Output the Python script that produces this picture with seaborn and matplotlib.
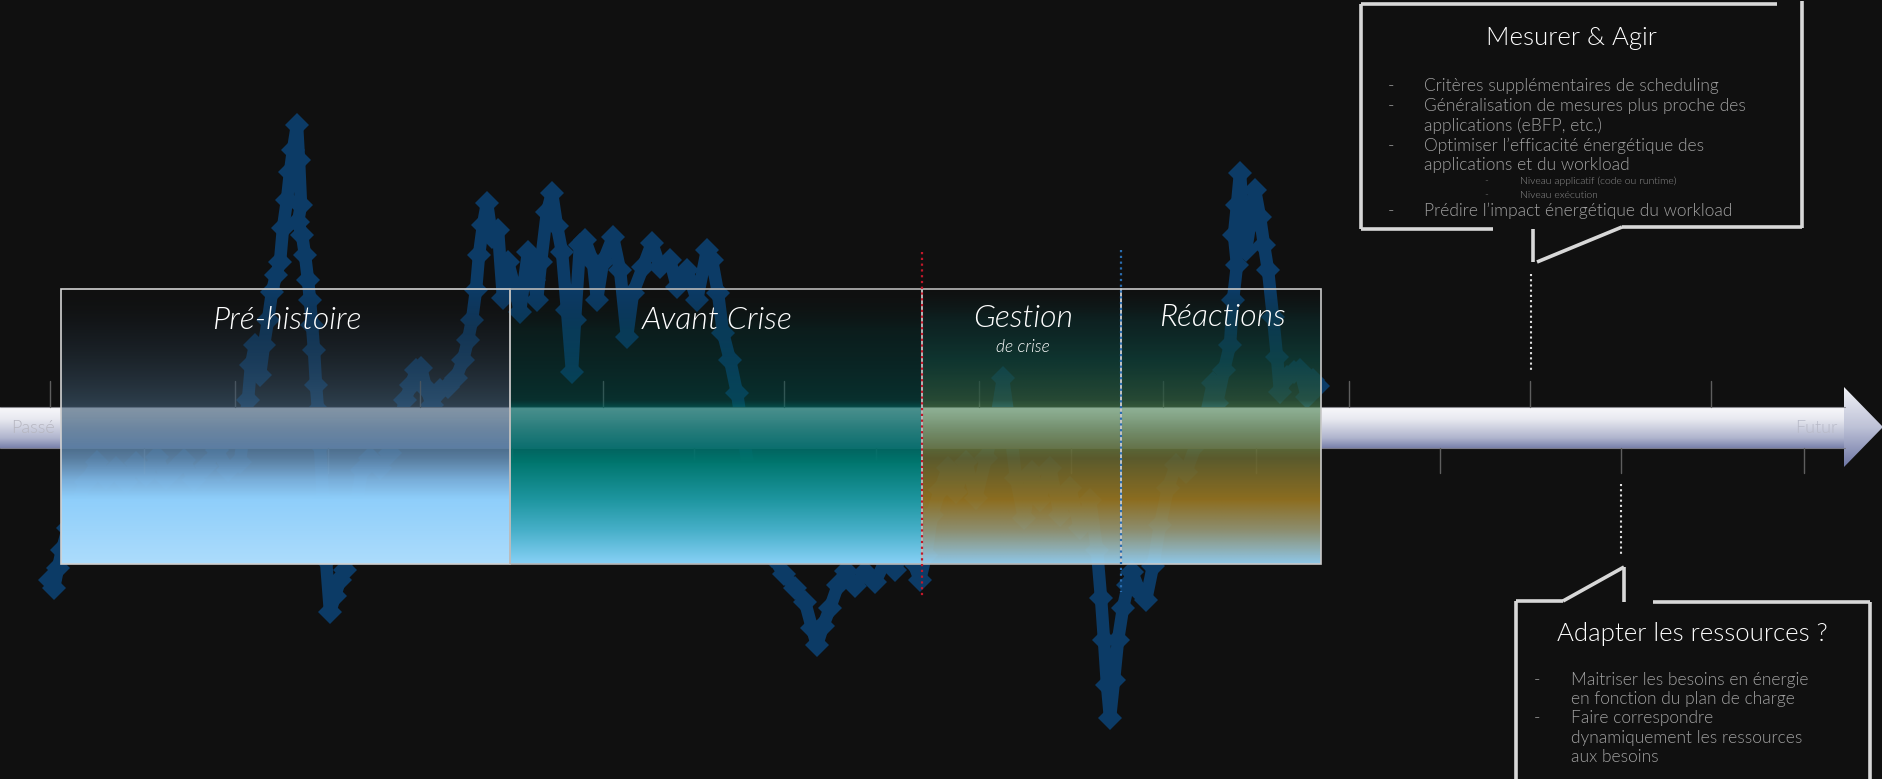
import numpy as np
import matplotlib
matplotlib.use("Agg")
import matplotlib.pyplot as plt
import seaborn as sns
from matplotlib.patches import Polygon, Rectangle

# ---------------- data ----------------
series_x = [50, 54, 58, 62, 68, 76, 86, 97, 106, 116, 126, 136, 146, 157, 166, 176, 184, 194, 206, 217,
            228, 240, 245, 248, 251, 255, 260, 264, 268, 272, 276, 280, 283, 287, 290, 293, 297, 299, 301, 298,
            302, 305, 308, 310, 312, 314, 316, 318, 320, 323, 326, 330, 335, 340, 345, 350, 356, 362, 370, 380,
            390, 398, 405, 411, 416, 421, 426, 432, 440, 448, 456, 463, 468, 472, 476, 479, 483, 487, 492, 498,
            503, 508, 514, 520, 528, 534, 537, 541, 547, 552, 557, 562, 567, 572, 575, 580, 585, 593, 597, 603,
            613, 620, 627, 633, 643, 652, 660, 670, 677, 687, 697, 707, 712, 718, 723, 730, 737, 744, 752, 762,
            772, 784, 795, 805, 812, 817, 823, 830, 838, 846, 855, 865, 875, 885, 895, 905, 913, 920, 926, 932,
            940, 948, 956, 966, 976, 986, 996, 1003, 1009, 1016, 1024, 1032, 1040, 1050, 1060, 1070, 1080, 1090, 1097, 1101,
            1104, 1107, 1110, 1114, 1118, 1123, 1128, 1132, 1140, 1146, 1153, 1160, 1168, 1176, 1186, 1196, 1206, 1213, 1217, 1224,
            1230, 1233, 1237, 1234, 1237, 1240, 1243, 1246, 1250, 1255, 1260, 1264, 1268, 1273, 1277, 1280, 1287, 1294, 1300, 1307,
            1313, 1318]
series_y = [580, 588, 568, 550, 528, 505, 482, 462, 478, 468, 482, 463, 475, 457, 478, 468, 460, 480, 466, 450,
            470, 462, 420, 400, 365, 345, 375, 345, 320, 292, 275, 262, 228, 200, 172, 150, 125, 160, 205, 222,
            235, 255, 280, 300, 325, 350, 385, 410, 445, 500, 560, 612, 596, 580, 570, 545, 505, 470, 458, 468,
            453, 430, 400, 385, 370, 368, 388, 405, 390, 387, 378, 360, 340, 320, 290, 255, 225, 203, 237, 230,
            298, 262, 285, 312, 252, 280, 300, 262, 212, 193, 226, 252, 310, 372, 320, 245, 240, 262, 300, 262,
            237, 270, 337, 293, 267, 243, 267, 260, 287, 270, 300, 250, 260, 293, 333, 360, 393, 440, 490, 530,
            556, 574, 588, 602, 628, 645, 626, 608, 585, 571, 586, 572, 582, 562, 570, 548, 562, 580, 555, 515,
            490, 468, 492, 462, 498, 458, 420, 378, 420, 478, 518, 472, 500, 468, 515, 488, 528, 500, 550, 598,
            640, 685, 718, 680, 640, 608, 585, 572, 592, 600, 566, 525, 488, 465, 472, 445, 415, 383, 403, 370,
            345, 300, 265, 235, 205, 173, 215, 250, 225, 190, 217, 245, 270, 317, 357, 392, 377, 372, 370, 397,
            380, 386]

phase_names = ["Pré-histoire", "Avant Crise", "Gestion", "Réactions"]
phase_bounds = [61, 510, 922, 1121, 1321]

top_title = "Mesurer & Agir"
top_items = [("Critères supplémentaires de scheduling", 0, True),
             ("Généralisation de mesures plus proche des", 0, True),
             ("applications (eBFP, etc.)", 0, False),
             ("Optimiser l’efficacité énergétique des", 0, True),
             ("applications et du workload", 0, False),
             ("Niveau applicatif (code ou runtime)", 1, True),
             ("Niveau exécution", 1, True),
             ("Prédire l’impact énergétique du workload", 0, True)]
bottom_title = "Adapter les ressources ?"
bottom_items = [("Maitriser les besoins en énergie", True),
                ("en fonction du plan de charge", False),
                ("Faire correspondre", True),
                ("dynamiquement les ressources", False),
                ("aux besoins", False)]

# ---------------- figure ----------------
sns.set_theme(style="dark")
plt.rcParams["font.family"] = ["Lato", "DejaVu Sans"]

W, H = 1883, 779
BG = "#101010"
fig = plt.figure(figsize=(W / 100, H / 100), dpi=100)
fig.patch.set_facecolor(BG)
ax = fig.add_axes([0, 0, 1, 1])
ax.set_facecolor(BG)


def vgrad(y0, y1, stops, n=300):
    ys = np.linspace(y0, y1, n)
    sy = [s[0] for s in stops]
    chans = []
    for k in range(3):
        chans.append(np.interp(ys, sy, [s[1][k] for s in stops]) / 255.0)
    chans.append(np.interp(ys, sy, [s[2] for s in stops]))
    return np.stack(chans, axis=-1)[:, None, :]


# data line (behind everything)
sns.lineplot(x=series_x, y=series_y, sort=False, estimator=None, ax=ax,
             color="#0c3b66", linewidth=9, marker="D", markersize=12,
             markeredgewidth=0, zorder=1)

# arrow
bar_top, bar_bot, head_x = 407, 448, 1845
bar_poly = Polygon([(0, bar_top), (head_x, bar_top), (head_x, bar_bot), (0, bar_bot)],
                   closed=True, facecolor="none", edgecolor="none", transform=ax.transData)
head_poly = Polygon([(head_x - 1, 387), (W, 427), (head_x - 1, 467)], closed=True,
                    facecolor="none", edgecolor="none", transform=ax.transData)
ax.add_patch(bar_poly)
ax.add_patch(head_poly)
img = vgrad(bar_top, bar_bot, [(bar_top, (248, 248, 251), 1), (bar_top + 12, (232, 233, 240), 1),
                               (bar_bot - 10, (175, 180, 205), 1), (bar_bot, (120, 128, 170), 1)])
im = ax.imshow(img, extent=[0, head_x, bar_bot, bar_top], aspect="auto", interpolation="bilinear", zorder=2)
im.set_clip_path(bar_poly)
img = vgrad(387, 467, [(387, (240, 241, 246), 1), (427, (190, 194, 215), 1), (467, (110, 118, 165), 1)])
im = ax.imshow(img, extent=[head_x - 1, W, 467, 387], aspect="auto", interpolation="bilinear", zorder=2)
im.set_clip_path(head_poly)
ax.plot([0, head_x], [bar_top, bar_top], color="#8a8a90", lw=0.8, zorder=2)
ax.plot([0, head_x], [bar_bot, bar_bot], color="#7a7a88", lw=0.8, zorder=2)

ax.text(11, 428, "Passé", color="#b6b6c0", fontsize=13, fontweight=300, ha="left", va="center", zorder=2.5)
ax.text(1838, 428, "Futur", color="#b8bac8", fontsize=13, fontweight=300, ha="right", va="center", zorder=2.5)

# ticks
for tx in [50, 235, 420, 603, 784, 979, 1163, 1349, 1530, 1711]:
    ax.plot([tx, tx], [381, bar_top], color="#5e5e5e", lw=1, zorder=2)
for tx in [144, 328, 512, 694, 876, 1071, 1256, 1440, 1621, 1804]:
    ax.plot([tx, tx], [bar_bot, 473], color="#5e5e5e", lw=1, zorder=2)

# phase boxes
BT, BB = 289, 564
pre_stops = [(289, (20, 24, 28), 0.0), (330, (30, 42, 52), 0.35), (400, (62, 88, 110), 0.6),
             (448, (88, 126, 162), 0.86), (458, (95, 135, 172), 0.92), (480, (125, 180, 225), 0.97),
             (498, (142, 206, 250), 1.0), (564, (172, 220, 252), 1.0)]
avant_stops = [(289, (10, 25, 25), 0.0), (330, (0, 60, 58), 0.3), (400, (0, 80, 76), 0.5),
               (407, (0, 100, 95), 0.7), (448, (0, 110, 105), 0.9), (462, (0, 118, 110), 1.0),
               (500, (30, 150, 160), 1.0), (530, (70, 175, 200), 1.0), (564, (135, 208, 246), 1.0)]
crise_stops = [(289, (10, 40, 40), 0.0), (320, (10, 55, 55), 0.45), (360, (15, 70, 62), 0.7),
               (400, (45, 88, 62), 0.8), (407, (75, 132, 85), 0.6), (448, (100, 115, 62), 0.88),
               (458, (98, 98, 48), 0.92), (500, (150, 117, 34), 0.93), (530, (150, 152, 118), 0.93),
               (564, (150, 210, 245), 0.95)]
stops_list = [pre_stops, avant_stops, crise_stops, crise_stops]
edge_cols = ["#d2d2d2", "#b8b8b8", "#b8b8b8", "#c8c8c8"]
for i, name in enumerate(phase_names):
    x0, x1 = phase_bounds[i], phase_bounds[i + 1]
    ax.imshow(vgrad(BT, BB, stops_list[i]), extent=[x0, x1, BB, BT], aspect="auto",
              interpolation="bilinear", zorder=3)
    ax.add_patch(Rectangle((x0, BT), x1 - x0, BB - BT, fill=False, edgecolor=edge_cols[i],
                           lw=1.2, zorder=4))

label_pos = [(287, 320), (717, 320), (1023, 318), (1222, 317)]
for name, (lx, ly) in zip(phase_names, label_pos):
    ax.text(lx, ly, name, color="white", fontsize=23, style="italic", fontweight=300,
            ha="center", va="center", zorder=5)
ax.text(1023, 347, "de crise", color="white", fontsize=12.5, style="italic", fontweight=300,
        ha="center", va="center", zorder=5)

# crisis markers
ax.plot([922, 922], [252, 597], color="#c0182a", ls=(0, (1, 1.6)), lw=1.6, zorder=4.5)
ax.plot([1121, 1121], [250, 592], color="#2a6db0", ls=(0, (1, 1.6)), lw=1.6, zorder=4.5)

# callouts
CC = "#d8d8d8"
LW = 2.6
segs_top = [[(1361, 4), (1777, 4)], [(1802, 1), (1802, 228)], [(1361, 4), (1361, 229)],
            [(1361, 229), (1493, 229)], [(1533, 229), (1533, 262)], [(1537, 262), (1622, 227)],
            [(1622, 227), (1802, 227)]]
segs_bot = [[(1516, 601), (1516, 790)], [(1516, 601), (1563, 601)], [(1563, 601), (1624, 567)],
            [(1624, 567), (1624, 602)], [(1653, 602), (1870, 602)], [(1870, 602), (1870, 790)]]
for s in segs_top + segs_bot:
    ax.plot([s[0][0], s[1][0]], [s[0][1], s[1][1]], color=CC, lw=LW, solid_capstyle="butt", zorder=6)

ax.plot([1531, 1531], [274, 372], color="#e0e0e0", ls=(0, (1, 1.5)), lw=1.5, zorder=6)
ax.plot([1621, 1621], [484, 555], color="#e0e0e0", ls=(0, (1, 1.5)), lw=1.5, zorder=6)

TXT = "#a0a0a0"
ax.text(1571, 38, top_title, color="white", fontsize=18.5, fontweight=300,
        ha="center", va="center", zorder=7)
ys_top = [86, 106, 126, 146, 165, 181, 195, 211]
for (txt, lvl, dash), yy in zip(top_items, ys_top):
    if lvl == 0:
        if dash:
            ax.text(1391, yy, "-", color=TXT, fontsize=12.5, fontweight=300, ha="center", va="center", zorder=7)
        ax.text(1424, yy, txt, color=TXT, fontsize=12.5, fontweight=300, ha="left", va="center", zorder=7)
    else:
        ax.text(1486, yy, "-", color="#8e8e8e", fontsize=7.5, fontweight=300, ha="center", va="center", zorder=7)
        ax.text(1520, yy, txt, color="#8e8e8e", fontsize=7.5, fontweight=300, ha="left", va="center", zorder=7)

ax.text(1692, 634, bottom_title, color="white", fontsize=18.5, fontweight=300,
        ha="center", va="center", zorder=7)
ys_bot = [680, 699, 718, 738, 757]
for (txt, dash), yy in zip(bottom_items, ys_bot):
    if dash:
        ax.text(1537, yy, "-", color=TXT, fontsize=12.5, fontweight=300, ha="center", va="center", zorder=7)
    ax.text(1571, yy, txt, color=TXT, fontsize=12.5, fontweight=300, ha="left", va="center", zorder=7)

ax.set_xlim(0, W)
ax.set_ylim(H, 0)
ax.axis("off")
fig.savefig("out.png", dpi=100, facecolor=BG)
